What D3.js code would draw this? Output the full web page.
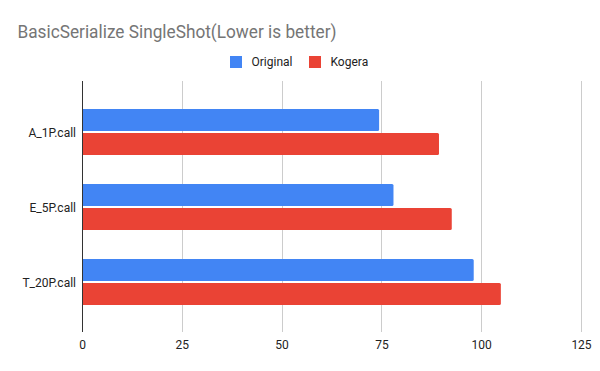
<!DOCTYPE html>
<html><head><meta charset="utf-8">
<script src="https://cdn.jsdelivr.net/npm/d3@7"></script>
<style>body{margin:0;background:#fff}svg{display:block;font-family:Roboto,Arial,sans-serif}</style>
</head><body><svg id="c" width="600" height="371"></svg>
<script>
const categories = ["A_1P.call", "E_5P.call", "T_20P.call"];
const seriesNames = ["Original", "Kogera"];
const original = [74.3, 77.9, 98.0];
const kogera = [89.3, 92.5, 104.8];
const xTicks = [0, 25, 50, 75, 100, 125];
const colors = ["#4285f4", "#ea4335"];
const title = "BasicSerialize SingleShot(Lower is better)";

const values = [original, kogera];
const svg = d3.select("#c");
const plotTop = 81, plotBottom = 332;
const x = d3.scaleLinear().domain([0, 125]).range([82.5, 581.5]);
const y0 = d3.scaleBand().domain(categories).range([94.5, 319.5]).paddingInner(29/75).paddingOuter(29/150);
const y1 = d3.scaleBand().domain(seriesNames).range([0, y0.bandwidth()]).paddingInner(1/12);

svg.append("rect").attr("width",600).attr("height",371).attr("fill","#fff");

svg.append("text").attr("x",17.5).attr("y",37.5).attr("font-size",18.5).attr("fill","#757575")
  .attr("textLength",319).attr("lengthAdjust","spacingAndGlyphs").text(title);

// legend
const leg = [{x:230},{x:309}];
seriesNames.forEach((s,i)=>{
  svg.append("rect").attr("x",leg[i].x).attr("y",56).attr("width",12).attr("height",12).attr("fill",colors[i]);
  svg.append("text").attr("x",leg[i].x+21.5).attr("y",66).attr("font-size",12).attr("fill","#222").text(s);
});

// grid
svg.append("g").selectAll("line").data(xTicks.filter(t=>t>0)).join("line")
  .attr("x1",d=>Math.floor(x(d))+0.5).attr("x2",d=>Math.floor(x(d))+0.5)
  .attr("y1",plotTop).attr("y2",plotBottom).attr("stroke","#cccccc").attr("stroke-width",1);

// bars
const g = svg.append("g");
categories.forEach((c,ci)=>{
  seriesNames.forEach((s,si)=>{
    g.append("path")
      .attr("d", (()=>{
        const x0 = x(0), x1v = x(values[si][ci]), yt = y0(c)+y1(s), h = y1.bandwidth(), r = 1.5;
        return `M${x0},${yt}H${x1v-r}Q${x1v},${yt} ${x1v},${yt+r}V${yt+h-r}Q${x1v},${yt+h} ${x1v-r},${yt+h}H${x0}Z`;
      })())
      .attr("fill",colors[si]);
  });
});

// baseline axis
svg.append("line").attr("x1",82.5).attr("x2",82.5).attr("y1",plotTop).attr("y2",plotBottom).attr("stroke","#333").attr("stroke-width",1);

// x tick labels
svg.append("g").selectAll("text").data(xTicks).join("text")
  .attr("x",d=>x(d)).attr("y",349).attr("text-anchor","middle").attr("font-size",12).attr("fill","#222").text(d=>d);

// y category labels
svg.append("g").selectAll("text").data(categories).join("text")
  .attr("x",76).attr("y",d=>y0(d)+y0.bandwidth()/2+4.5).attr("text-anchor","end").attr("font-size",12).attr("fill","#222").text(d=>d);
</script></body></html>
